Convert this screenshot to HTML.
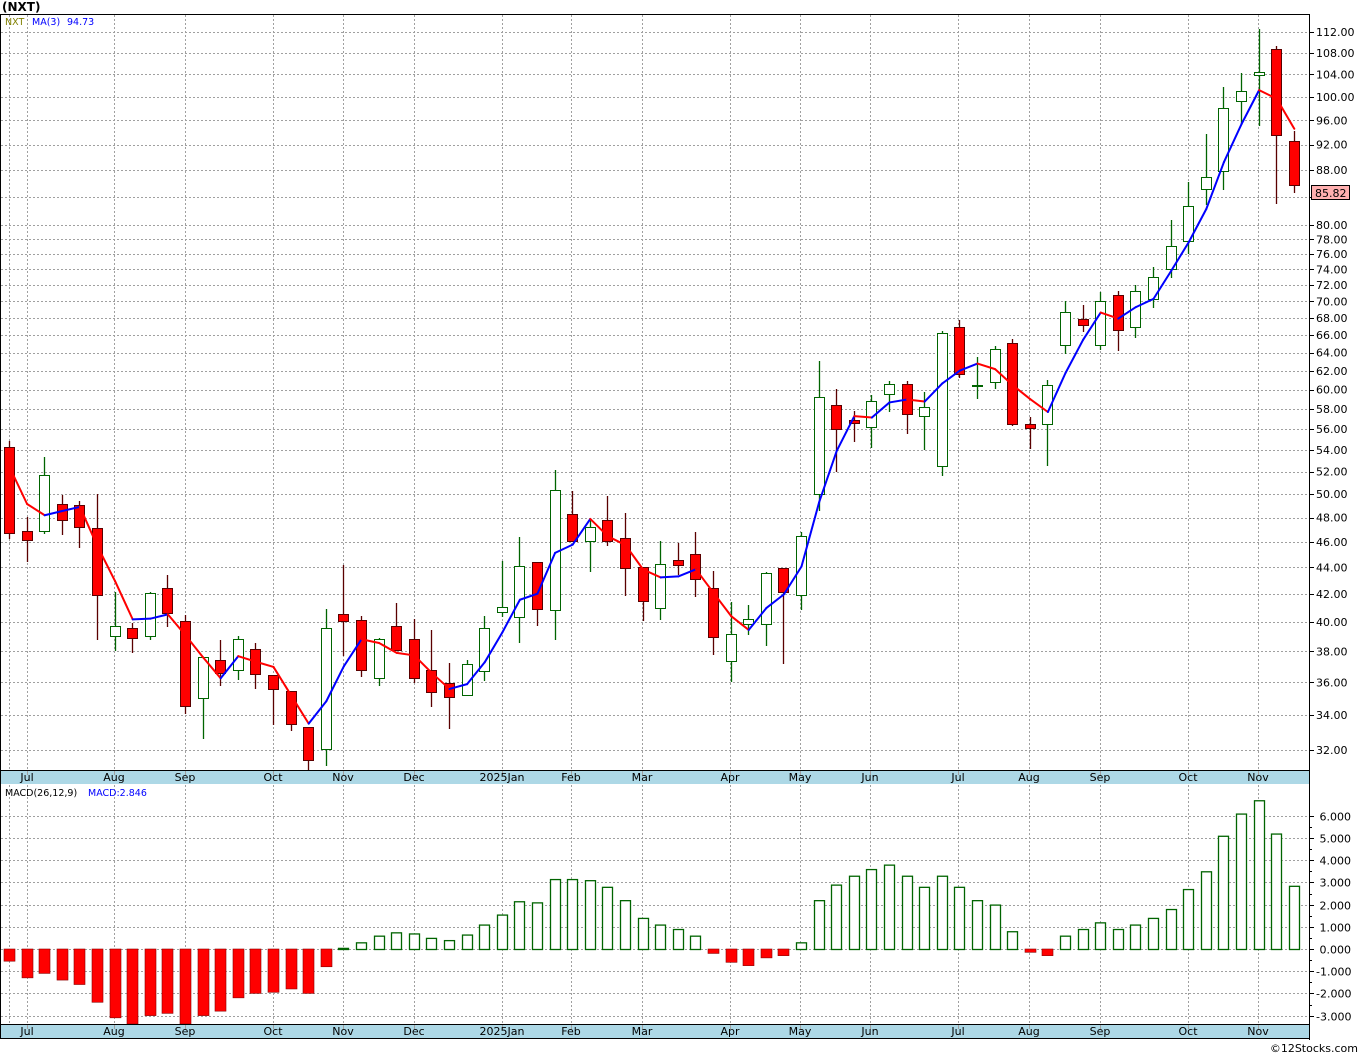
<!DOCTYPE html>
<html><head><meta charset="utf-8">
<style>
html,body{margin:0;padding:0;background:#fff;}
svg{display:block;}
text{font-family:"DejaVu Sans","Liberation Sans",sans-serif;}
</style></head>
<body>
<svg id="s" width="1360" height="1056" xmlns="http://www.w3.org/2000/svg"></svg>
<script>
var S=document.getElementById('s'),o='';
function py(p){return 32+573*Math.log(112/p);}
function yp(y){return 112*Math.exp(-(y-32)/573);}
function X(i){return 9+17.6*i;}
var C=[
['r',447,533,441,539],['r',531,540,517,562],['g',475,531,457,534],['r',504,520,495,535],['r',505,527,501,548],
['r',528,595,494,640],['g',626,636,592,651],['r',628,638,623,653],['g',593,636,592,640],['r',588,613,575,627],
['r',621,706,615,714],['g',657,698,657,739],['r',660,673,640,686],['g',639,670,636,680],['r',649,674,643,689],
['r',675,689,675,725],['r',691,724,691,731],['r',727,760,727,770],['g',628,749,609,766],['r',614,621,565,656],
['r',620,670,616,677],['g',639,678,638,686],['r',626,650,603,650],['r',639,678,619,683],['r',670,692,630,707],
['r',683,697,663,729],['g',664,695,660,695],['g',628,671,616,681],['g',607,612,561,617],['g',566,617,537,643],
['r',562,609,562,626],['g',490,610,470,640],['r',514,541,491,541],['g',527,541,519,572],['r',520,541,496,546],
['r',538,568,513,596],['r',567,601,567,621],['g',564,608,541,620],['r',560,565,543,575],['r',554,579,532,597],
['r',588,637,571,655],['g',634,661,602,682],['g',619,624,605,635],['g',573,624,572,646],['r',568,592,568,664],
['g',536,595,532,610],['g',397,494,361,511],['r',405,429,389,472],['r',420,423,411,442],['g',401,427,395,448],
['g',384,394,381,412],['r',384,414,381,434],['g',407,416,392,450],['g',333,466,331,476],['r',327,374,320,378],
['g',385,386,357,399],['g',349,382,346,389],['r',343,424,339,426],['r',424,428,417,449],['g',385,424,380,466],
['g',312,345,301,354],['r',319,325,305,332],['g',301,345,292,350],['r',295,330,291,351],['g',291,327,285,338],
['g',277,299,267,308],['g',246,269,220,278],['g',206,241,182,254],['g',177,189,134,205],['g',108,171,87,190],
['g',91,101,73,125],['g',72,75,29,126],['r',49,135,46,204],['r',141,185,131,193]];
var M=[-0.55,-1.3,-1.1,-1.4,-1.6,-2.4,-3.1,-3.45,-3.0,-2.9,-3.5,-3.0,-2.8,-2.2,-2.0,-1.95,-1.8,-2.0,-0.8,0.05,
0.3,0.6,0.75,0.7,0.5,0.4,0.65,1.1,1.55,2.15,2.1,3.15,3.15,3.1,2.8,2.2,1.4,1.1,0.9,0.6,
-0.2,-0.6,-0.75,-0.4,-0.3,0.3,2.2,2.9,3.3,3.6,3.8,3.3,2.8,3.3,2.8,2.2,2.0,0.8,-0.15,-0.3,
0.6,0.9,1.2,0.9,1.1,1.4,1.8,2.7,3.5,5.1,6.1,6.7,5.2,2.846];
var grid='stroke="#a0a0a0" stroke-width="1" stroke-dasharray="2,2"';
var months=[[27,'Jul'],[114,'Aug'],[185,'Sep'],[273,'Oct'],[343,'Nov'],[414,'Dec'],[502,'2025Jan'],[571,'Feb'],[642,'Mar'],[730,'Apr'],[800,'May'],[870,'Jun'],[958,'Jul'],[1029,'Aug'],[1100,'Sep'],[1188,'Oct'],[1258,'Nov']];
// price grid
var pl=[112,108,104,100,96,92,88,80,78,76,74,72,70,68,66,64,62,60,58,56,54,52,50,48,46,44,42,40,38,36,34,32];
pl.concat([84]).forEach(function(p){var y=Math.round(py(p))+.5;o+='<line x1="1" x2="1309" y1="'+y+'" y2="'+y+'" '+grid+'/>';o+='<line x1="1309" x2="1314" y1="'+y+'" y2="'+y+'" stroke="#000"/>';});
pl.forEach(function(p){var y=py(p);o+='<text x="1316" y="'+(y+4)+'" font-size="11" fill="#000">'+p.toFixed(2)+'</text>';});
// vertical grid
[9].concat(months.map(function(m){return m[0];})).forEach(function(x){x+=.5;o+='<line x1="'+x+'" x2="'+x+'" y1="15" y2="770" '+grid+'/><line x1="'+x+'" x2="'+x+'" y1="785" y2="1024" '+grid+'/>';});
// macd grid
for(var v=6;v>=-3;v--){var y=Math.round(949-22.2*v)+.5;o+='<line x1="1" x2="1309" y1="'+y+'" y2="'+y+'" '+grid+'/><line x1="1309" x2="1314" y1="'+y+'" y2="'+y+'" stroke="#000"/>';
o+='<text x="1316" y="'+(y+4)+'" font-size="11" fill="#000">'+(v<0?'':'\u00a0')+v.toFixed(3)+'</text>';}
for(var v=5.5;v>-3.5;v-=1){var y=Math.round(949-22.2*v)+.5;o+='<line x1="1309" x2="1312" y1="'+y+'" y2="'+y+'" stroke="#000"/>';}
// candles
C.forEach(function(c,i){var x=Math.round(X(i));var col=c[0]=='g'?'#006400':'#5a0000';
o+='<line x1="'+(x+.5)+'" x2="'+(x+.5)+'" y1="'+c[3]+'" y2="'+c[4]+'" stroke="'+col+'" stroke-width="1.3"/>';
var h=Math.max(c[2]-c[1],1);
o+='<rect x="'+(x-4.5)+'" y="'+(c[1]+.5)+'" width="10" height="'+h+'" fill="'+(c[0]=='g'?'#fff':'#ff0000')+'" stroke="'+col+'" stroke-width="1"/>';});
// MA
var cl=C.map(function(c){return yp(c[0]=='g'?c[1]:c[2]);});
var ma=[467,504];for(var i=2;i<C.length;i++){ma.push(py((cl[i]+cl[i-1]+cl[i-2])/3));}
for(var i=1;i<ma.length;i++){var col=ma[i]>ma[i-1]?'#ff0000':'#0000ff';
o+='<line x1="'+(X(i-1)+.5)+'" y1="'+ma[i-1]+'" x2="'+(X(i)+.5)+'" y2="'+ma[i]+'" stroke="'+col+'" stroke-width="2" stroke-linecap="round"/>';}
// MACD bars
M.forEach(function(v,i){var x=Math.round(X(i));var h=Math.abs(v)*22.2;var y=v>=0?949-h:949;if(y+h>1024)h=1024-y;
if(v>=0)o+='<rect x="'+(x-4.5)+'" y="'+(y+.5)+'" width="10" height="'+Math.max(h,1)+'" fill="#fff" stroke="#006400" stroke-width="1.3"/>';
else o+='<rect x="'+(x-5)+'" y="949" width="11" height="'+h+'" fill="#ff0000" stroke="#8b0000" stroke-width="0.6"/>';});
// strips
o+='<rect x="1" y="770" width="1308" height="14" fill="#add8e6"/><line x1="0" x2="1309" y1="770.5" y2="770.5" stroke="#000"/>';
o+='<rect x="1" y="1024" width="1308" height="14" fill="#add8e6"/><line x1="0" x2="1309" y1="1024.5" y2="1024.5" stroke="#000"/><line x1="0" x2="1309" y1="1038.5" y2="1038.5" stroke="#000"/>';
months.forEach(function(m){o+='<line x1="'+(m[0]+.5)+'" x2="'+(m[0]+.5)+'" y1="771" y2="775" stroke="#a0a0a0"/><text x="'+m[0]+'" y="781" font-size="11" text-anchor="middle" fill="#000">'+m[1]+'</text>';
o+='<line x1="'+(m[0]+.5)+'" x2="'+(m[0]+.5)+'" y1="1025" y2="1029" stroke="#a0a0a0"/><text x="'+m[0]+'" y="1035" font-size="11" text-anchor="middle" fill="#000">'+m[1]+'</text>';});
// borders
o+='<line x1="0" x2="1310" y1="14.5" y2="14.5" stroke="#000"/><line x1="0.5" x2="0.5" y1="14" y2="1039" stroke="#000"/><line x1="1309.5" x2="1309.5" y1="14" y2="1040" stroke="#000"/>';
// price box
o+='<rect x="1311.5" y="185.5" width="38" height="14" fill="#ffb0b0" stroke="#000"/><text x="1315" y="197" font-size="11" fill="#000">85.82</text>';
// texts
o+='<text x="2" y="11" font-size="12" font-weight="bold" fill="#000">(NXT)</text>';
o+='<text x="5" y="25" font-size="9.5" fill="#808000">NXT</text><text x="32" y="25" font-size="9.5" fill="#0000ff">MA(3)</text><text x="67" y="25" font-size="9.5" fill="#0000ff">94.73</text>';
o+='<text x="5" y="796" font-size="9.5" fill="#000">MACD(26,12,9)</text><text x="88" y="796" font-size="9.5" fill="#0000ff">MACD:2.846</text>';
o+='<text x="1358" y="1052" font-size="11" text-anchor="end" fill="#000">©12Stocks.com</text>';
S.innerHTML=o;
</script>
</body></html>
